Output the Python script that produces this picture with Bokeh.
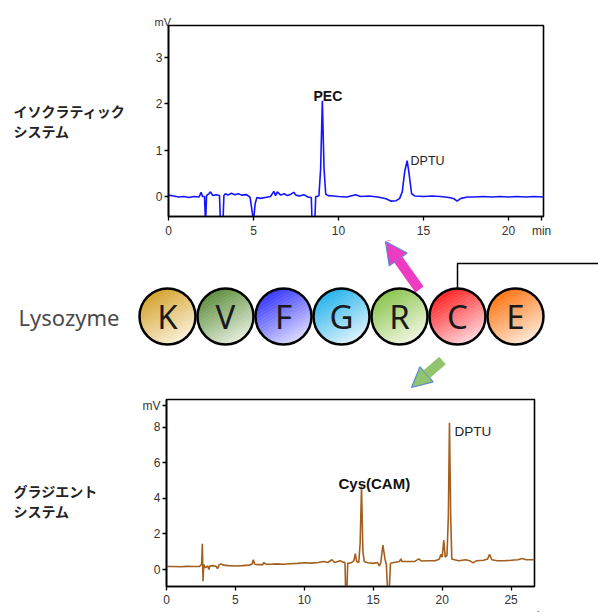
import numpy as np
from bokeh.plotting import figure
from bokeh.layouts import column, row
from bokeh.models import Range1d, FixedTicker, Label, Arrow, NormalHead, Title
from bokeh.embed import file_html
from bokeh.resources import INLINE
from bokeh.core.properties import value

# ---------------- data ----------------
iso_time = [0.0, 0.3, 0.6, 0.9, 1.2, 1.5, 1.8, 1.92, 2.0, 2.12, 2.18, 2.24, 2.35, 2.47, 2.6, 2.8,
            3.0, 3.06, 3.2, 3.26, 3.35, 3.5, 3.7, 3.9, 4.1, 4.3, 4.6, 4.8, 4.95, 5.02, 5.1, 5.2,
            5.4, 5.7, 6.0, 6.2, 6.3, 6.4, 6.6, 6.8, 7.0, 7.2, 7.37, 7.5, 7.7, 7.96, 8.2, 8.4,
            8.45, 8.6, 8.66, 8.75, 8.85, 8.95, 9.05, 9.15, 9.25, 9.4, 9.7, 10.0, 10.5, 11.0,
            11.3, 11.8, 12.3, 12.8, 13.1, 13.4, 13.6, 13.75, 13.9, 14.04, 14.15, 14.3, 14.5,
            15.0, 15.5, 16.0, 16.5, 16.8, 16.98, 17.2, 17.6, 18.0, 18.5, 19.0, 19.5, 20.0,
            20.5, 21.0, 21.5, 22.06]
iso_mv = [0.03, 0.01, -0.01, 0.0, -0.02, 0.0, -0.01, 0.09, 0.0, 0.0, -0.6, 0.02, 0.05, 0.1, 0.02, 0.04,
          0.02, -0.6, -0.6, 0.02, 0.06, 0.03, 0.07, 0.04, 0.06, 0.03, 0.04, -0.02, -0.4, -0.45, -0.15, -0.02,
          -0.04, -0.02, 0.0, 0.11, 0.02, 0.1, 0.03, 0.06, 0.02, 0.05, 0.09, 0.03, 0.01, 0.04, -0.01, -0.02,
          -0.6, -0.6, 0.0, 0.0, 0.02, 0.6, 2.06, 0.6, 0.05, 0.02, 0.01, 0.0, -0.01, 0.04,
          0.0, 0.01, -0.01, -0.05, -0.1, -0.09, -0.04, 0.1, 0.55, 0.77, 0.5, 0.06, 0.01,
          0.0, 0.01, 0.0, -0.02, -0.05, -0.1, -0.04, -0.01, -0.01, 0.0, -0.01, 0.0, -0.01,
          0.0, -0.01, 0.0, -0.01]

grad_time = [0.0, 0.5, 1.0, 1.5, 2.0, 2.4, 2.55, 2.6, 2.65, 2.7, 2.8, 3.0, 3.07, 3.15, 3.4, 3.6,
             3.7, 3.8, 3.95, 4.1, 4.5, 5.0, 5.5, 6.0, 6.2, 6.3, 6.4, 6.6, 7.0, 7.05, 7.2, 7.6,
             8.0, 8.5, 9.0, 9.5, 10.0, 10.5, 11.0, 11.4, 11.7, 12.0, 12.2, 12.6, 12.8, 12.95,
             13.0, 13.08, 13.15, 13.4, 13.6, 13.7, 13.8, 13.95, 14.05, 14.15, 14.25, 14.35,
             14.6, 15.0, 15.3, 15.45, 15.55, 15.7, 15.85, 15.95, 16.05, 16.15, 16.25, 16.5,
             16.9, 17.0, 17.1, 17.6, 18.0, 18.3, 18.5, 19.0, 19.5, 19.8, 19.9, 20.0, 20.12,
             20.22, 20.35, 20.45, 20.53, 20.62, 20.7, 20.9, 21.2, 21.7, 22.0, 22.25, 22.5,
             23.0, 23.3, 23.44, 23.6, 24.0, 24.5, 25.0, 25.5, 25.8, 26.1, 26.7]
grad_mv = [0.17, 0.17, 0.16, 0.18, 0.17, 0.18, 0.3, 1.45, -0.65, 0.3, 0.1, 0.2, 0.0, 0.2, 0.22, 0.18,
           0.05, 0.25, 0.32, 0.25, 0.22, 0.2, 0.22, 0.25, 0.3, 0.55, 0.3, 0.28, 0.28, 0.4, 0.3, 0.3,
           0.32, 0.3, 0.33, 0.35, 0.38, 0.36, 0.4, 0.45, 0.4, 0.55, 0.4, 0.5, 0.42, 0.4,
           -1.3, -1.3, 0.35, 0.38, 0.5, 0.9, 0.45, 0.4, 1.5, 4.66, 1.0, 0.45,
           0.38, 0.35, 0.4, 0.2, 0.4, 1.38, 0.6, 0.3, -1.3, -1.3, 0.35, 0.4,
           0.45, 0.6, 0.45, 0.45, 0.45, 0.6, 0.48, 0.5, 0.5, 0.6, 0.85, 0.7, 1.65,
           0.7, 0.8, 3.0, 8.24, 3.0, 0.6, 0.55, 0.5, 0.55, 0.5, 0.38, 0.5,
           0.52, 0.6, 0.85, 0.55, 0.5, 0.5, 0.52, 0.55, 0.62, 0.55, 0.55]

iso_xticks = [0, 5, 10, 15, 20]
iso_yticks = [0, 1, 2, 3]
grad_xticks = [0, 5, 10, 15, 20, 25]
grad_yticks = [0, 2, 4, 6, 8]

iso_system = ["イソクラティック", "システム"]
grad_system = ["グラジエント", "システム"]

residues = ["K", "V", "F", "G", "R", "C", "E"]
residue_dark = ["#D3A12A", "#5C8D3C", "#3434FF", "#22B2EC", "#88C44C", "#FF2020", "#FF7410"]
residue_light = ["#FAF0D8", "#E4EEDC", "#DCDCFF", "#DDF2FC", "#F0F6E0", "#FFD6DC", "#FFE8D6"]

FONT = "Liberation Sans"
JP = "Noto Sans CJK JP"
COMMON = dict(output_backend="svg", toolbar_location=None, frame_align=False)


def style_chart(p, xt, yt, xstand, xover=None, yover=None):
    p.xaxis.ticker = FixedTicker(ticks=xt)
    p.yaxis.ticker = FixedTicker(ticks=yt)
    if xover:
        p.xaxis[0].major_label_overrides = xover
    if yover:
        p.yaxis[0].major_label_overrides = yover
    p.xgrid.visible = False
    p.ygrid.visible = False
    p.outline_line_color = "black"
    p.outline_line_width = 1.6
    p.outline_line_alpha = 1.0
    for ax in (p.xaxis[0], p.yaxis[0]):
        ax.axis_line_color = "black"
        ax.axis_line_width = 1.6
        ax.major_tick_out = 4
        ax.major_tick_in = 0
        ax.minor_tick_out = 0
        ax.minor_tick_in = 0
        ax.major_tick_line_color = "black"
        ax.major_tick_line_width = 1.3
        ax.major_label_text_font = FONT
        ax.major_label_text_font_size = "12px"
        ax.major_label_text_color = "#333333"
    p.yaxis[0].major_label_standoff = 2
    p.xaxis[0].major_label_standoff = xstand


def add_label(p, x, y, text, size, style="normal", color="#222222"):
    p.add_layout(Label(x=x, y=y, text=text, text_font=FONT, text_font_size=size,
                       text_font_style=style, text_align="left", text_baseline="middle",
                       text_color=color))


def side_fig(w, h, lines, y0, dy):
    f = figure(width=w, height=h, x_range=Range1d(0, w), y_range=Range1d(h, 0), min_border=0,
               x_axis_type=None, y_axis_type=None, **COMMON)
    f.outline_line_color = None
    f.text(x=[13] * len(lines), y=[y0 + dy * k for k in range(len(lines))], text=lines,
           text_align="left", text_baseline="middle", text_font=value(JP),
           text_font_style="bold", text_font_size="14px", text_color="#222222")
    return f


# ---------------- top chromatogram (isocratic) ----------------
TOP_H = 237
p1 = figure(frame_width=375, frame_height=191, min_border_left=18, min_border_right=55,
            min_border_top=25, min_border_bottom=21,
            x_range=Range1d(0, 22.06), y_range=Range1d(-0.43, 3.68), **COMMON)
style_chart(p1, iso_xticks + [21.95], iso_yticks, 3, xover={21.95: "min"})
p1.line(iso_time, iso_mv, line_color="#1414FF", line_width=1.6)
add_label(p1, 8.53, 2.16, "PEC", "14px", style="bold", color="#111111")
add_label(p1, 14.24, 0.77, "DPTU", "12.5px")
p1.title.text = "mV"
p1.title.align = "left"
p1.title.offset = -14
p1.title.standoff = -4
p1.title.text_font = FONT
p1.title.text_font_size = "11px"
p1.title.text_font_style = "normal"
p1.title.text_color = "#333333"
left1 = side_fig(150, TOP_H, iso_system, 110, 20)

# ---------------- middle: lysozyme sequence ----------------
UNIT = 58.0
mid_h = 392 - TOP_H
top_px = 313 - TOP_H   # distance from figure top to circle centre
p2 = figure(width=598, height=mid_h, x_range=Range1d(-167 / UNIT, 431 / UNIT),
            y_range=Range1d(-(mid_h - top_px) / UNIT, top_px / UNIT),
            min_border=0, x_axis_type=None, y_axis_type=None, **COMMON)
p2.outline_line_color = None

R = 28.0 / UNIT
ang = np.deg2rad(30)
d = np.array([np.sin(ang), -np.cos(ang)])
perp = np.array([-d[1], d[0]])
N = 20


def hex2rgb(h):
    return np.array([int(h[i:i + 2], 16) for i in (1, 3, 5)], dtype=float)


xs_all, ys_all, cols = [], [], []
for i in range(len(residues)):
    a0, a1 = hex2rgb(residue_dark[i]), hex2rgb(residue_light[i])
    edges = np.linspace(-R, R, N + 1)
    for k in range(N):
        a, b = edges[k], edges[k + 1]
        u1 = np.linspace(a, b, 6)
        v1 = np.sqrt(np.maximum(R ** 2 - u1 ** 2, 0))
        u = np.concatenate([u1, u1[::-1]])
        v = np.concatenate([v1, -v1[::-1]])
        xs_all.append(list(i + u * d[0] + v * perp[0]))
        ys_all.append(list(u * d[1] + v * perp[1]))
        c = a0 + (a1 - a0) * ((k + 0.5) / N)
        cols.append("#%02x%02x%02x" % tuple(int(round(q)) for q in c))
p2.patches(xs_all, ys_all, fill_color=cols, line_color=cols, line_width=0.6)

idx = list(range(len(residues)))
p2.circle(x=idx, y=[0] * len(idx), radius=R, fill_color=None, line_color="black", line_width=2.5)
p2.text(x=idx, y=[0] * len(idx), text=residues, text_align="center", text_baseline="middle",
        text_font=value("Noto Sans"), text_font_size="33px", text_color="#1a1a1a")

# connector from C
ci = residues.index("C")
p2.line([ci, ci, 8.0], [R, 53 / UNIT, 53 / UNIT], line_color="black", line_width=1.5)

p2.add_layout(Label(x=-149 / UNIT, y=0, text="Lysozyme", text_font="Noto Sans", text_font_size="22px",
                    text_color="#4a4a4a", text_baseline="middle", text_align="left"))

# arrows
pink = "#EE3CC2"
green = "#92C36E"
edge = "#5B8AD2"
p2.add_layout(Arrow(x_start=(419 - 167) / UNIT, y_start=(313 - 286) / UNIT,
                    x_end=(385 - 167) / UNIT, y_end=(313 - 238) / UNIT,
                    line_color=pink, line_width=10,
                    end=NormalHead(size=22, fill_color=pink, line_color=edge, line_width=1.2)))
p2.add_layout(Arrow(x_start=(442 - 167) / UNIT, y_start=(313 - 357) / UNIT,
                    x_end=(411 - 167) / UNIT, y_end=(313 - 384) / UNIT,
                    line_color=green, line_width=10,
                    end=NormalHead(size=20, fill_color=green, line_color=edge, line_width=1.2)))

# ---------------- bottom chromatogram (gradient) ----------------
LEFT3_W = 139
p3 = figure(frame_width=368, frame_height=187, min_border_left=16, min_border_right=64,
            min_border_top=4, min_border_bottom=29,
            x_range=Range1d(0, 26.7), y_range=Range1d(-0.95, 9.55), **COMMON)
style_chart(p3, grad_xticks, grad_yticks + [9.21], 4, yover={9.21: "mV"})
p3.line(grad_time, grad_mv, line_color="#A35F1E", line_width=1.6)
add_label(p3, 12.48, 4.83, "Cys(CAM)", "15px", style="bold", color="#111111")
add_label(p3, 20.9, 7.78, "DPTU", "13.5px")
p3.add_layout(Title(text="min", align="right", offset=-11, standoff=0, text_font=FONT,
                    text_font_size="11px", text_font_style="normal", text_color="#333333"), "below")
left3 = side_fig(LEFT3_W, 612 - 392, grad_system, 95, 20)

layout = column(row(left1, p1, spacing=0), p2, row(left3, p3, spacing=0), spacing=0)
open("out.html", "w").write(file_html(layout, INLINE))
